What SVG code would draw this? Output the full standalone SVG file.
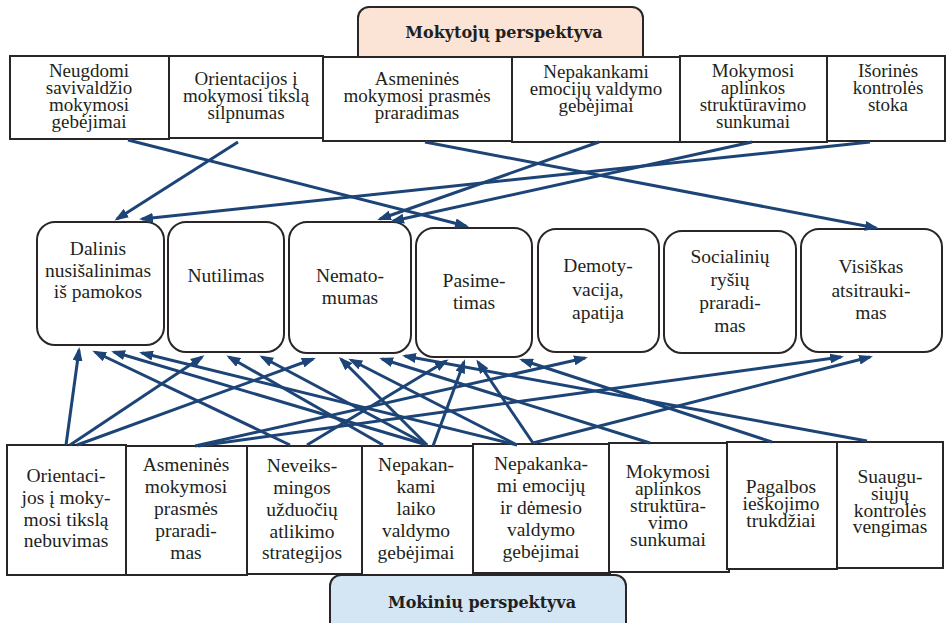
<svg xmlns="http://www.w3.org/2000/svg" width="946" height="623" viewBox="0 0 946 623">
  <style>
    .box { fill: #ffffff; stroke: #2a2526; stroke-width: 2; }
    .rbox { fill: #ffffff; stroke: #2a2526; stroke-width: 2; }
    .t { font-family: "Liberation Serif", "Times New Roman", serif; font-size: 19.5px; fill: #231f20; text-anchor: middle; }
    .ts { font-size: 19px; }
    .h { font-family: "DejaVu Serif", "Liberation Serif", serif; font-weight: bold; font-size: 16px; fill: #231f20; text-anchor: middle; }
    .c line { stroke: #1d4477; stroke-width: 3; fill: none; marker-end: url(#ah); }
  </style>
  <defs>
    <marker id="ah" viewBox="0 0 14 10" refX="11" refY="5" markerWidth="14" markerHeight="10" markerUnits="userSpaceOnUse" orient="auto">
      <path d="M0,0 L14,5 L0,10 Z" fill="#1d4477"/>
    </marker>
  </defs>
  <rect width="946" height="623" fill="#ffffff"/>

  <!-- header: teachers -->
  <g id="hdr-teachers">
    <rect x="358" y="7" width="285" height="62" rx="11" fill="#fbe3d5" stroke="#2a2526" stroke-width="2"/>
    <text class="h" x="504" y="38">Mokytojų perspektyva</text>
  </g>

  <!-- top row -->
  <g id="top1"><rect class="box" x="10" y="56" width="159" height="83"/>
    <text class="t ts"><tspan x="89" y="77">Neugdomi</tspan><tspan x="89" y="94">savivaldžio</tspan><tspan x="89" y="111">mokymosi</tspan><tspan x="89" y="128">gebėjimai</tspan></text></g>
  <g id="top2"><rect class="box" x="169" y="56" width="154" height="82"/>
    <text class="t ts"><tspan x="246" y="85">Orientacijos į</tspan><tspan x="246" y="102">mokymosi tikslą</tspan><tspan x="246" y="119">silpnumas</tspan></text></g>
  <g id="top3"><rect class="box" x="323" y="57" width="189" height="84"/>
    <text class="t ts"><tspan x="417" y="85">Asmeninės</tspan><tspan x="417" y="102">mokymosi prasmės</tspan><tspan x="417" y="119">praradimas</tspan></text></g>
  <g id="top4"><rect class="box" x="512" y="57" width="168" height="85"/>
    <text class="t ts"><tspan x="596" y="78">Nepakankami</tspan><tspan x="596" y="95">emocijų valdymo</tspan><tspan x="596" y="112">gebėjimai</tspan></text></g>
  <g id="top5"><rect class="box" x="680" y="56" width="147" height="86"/>
    <text class="t ts"><tspan x="753" y="77">Mokymosi</tspan><tspan x="753" y="94">aplinkos</tspan><tspan x="753" y="111">struktūravimo</tspan><tspan x="753" y="128">sunkumai</tspan></text></g>
  <g id="top6"><rect class="box" x="827" y="56" width="118" height="85"/>
    <text class="t ts"><tspan x="888" y="77">Išorinės</tspan><tspan x="888" y="94">kontrolės</tspan><tspan x="888" y="111">stoka</tspan></text></g>

  <!-- middle row: forms of disengagement -->
  <g id="mid1"><rect class="rbox" x="37" y="222" width="127" height="123" rx="18"/>
    <text class="t"><tspan x="98" y="255">Dalinis</tspan><tspan x="98" y="277">nusišalinimas</tspan><tspan x="98" y="298">iš pamokos</tspan></text></g>
  <g id="mid2"><rect class="rbox" x="168" y="222" width="116" height="130" rx="18"/>
    <text class="t"><tspan x="226" y="282">Nutilimas</tspan></text></g>
  <g id="mid3"><rect class="rbox" x="289" y="222" width="122" height="131" rx="18"/>
    <text class="t"><tspan x="350" y="282">Nemato-</tspan><tspan x="350" y="304">mumas</tspan></text></g>
  <g id="mid4"><rect class="rbox" x="416" y="228" width="116" height="129" rx="18"/>
    <text class="t"><tspan x="474" y="287">Pasime-</tspan><tspan x="474" y="309">timas</tspan></text></g>
  <g id="mid5"><rect class="rbox" x="538" y="229" width="121" height="123" rx="18"/>
    <text class="t"><tspan x="598" y="272">Demoty-</tspan><tspan x="598" y="296">vacija,</tspan><tspan x="598" y="319">apatija</tspan></text></g>
  <g id="mid6"><rect class="rbox" x="664" y="231" width="132" height="122" rx="18"/>
    <text class="t"><tspan x="730" y="263">Socialinių</tspan><tspan x="730" y="286">ryšių</tspan><tspan x="730" y="309">praradi-</tspan><tspan x="730" y="332">mas</tspan></text></g>
  <g id="mid7"><rect class="rbox" x="801" y="229" width="141" height="123" rx="18"/>
    <text class="t"><tspan x="871" y="273">Visiškas</tspan><tspan x="871" y="297">atsitrauki-</tspan><tspan x="871" y="319">mas</tspan></text></g>

  <!-- bottom row -->
  <g id="bot1"><rect class="box" x="7" y="445" width="119" height="130"/>
    <text class="t"><tspan x="66" y="482">Orientaci-</tspan><tspan x="66" y="504">jos į moky-</tspan><tspan x="66" y="526">mosi tikslą</tspan><tspan x="66" y="547">nebuvimas</tspan></text></g>
  <g id="bot2"><rect class="box" x="126" y="446" width="121" height="129"/>
    <text class="t"><tspan x="186" y="471">Asmeninės</tspan><tspan x="186" y="493">mokymosi</tspan><tspan x="186" y="515">prasmės</tspan><tspan x="186" y="537">praradi-</tspan><tspan x="186" y="559">mas</tspan></text></g>
  <g id="bot3"><rect class="box" x="247" y="446" width="115" height="128"/>
    <text class="t"><tspan x="302" y="472">Neveiks-</tspan><tspan x="302" y="494">mingos</tspan><tspan x="302" y="516">užduočių</tspan><tspan x="302" y="538">atlikimo</tspan><tspan x="302" y="559">strategijos</tspan></text></g>
  <g id="bot4"><rect class="box" x="362" y="446" width="111" height="129"/>
    <text class="t"><tspan x="416" y="471">Nepakan-</tspan><tspan x="416" y="493">kami</tspan><tspan x="416" y="515">laiko</tspan><tspan x="416" y="537">valdymo</tspan><tspan x="416" y="559">gebėjimai</tspan></text></g>
  <g id="bot5"><rect class="box" x="473" y="444" width="137" height="129"/>
    <text class="t"><tspan x="541" y="470">Nepakanka-</tspan><tspan x="541" y="492">mi emocijų</tspan><tspan x="541" y="514">ir dėmesio</tspan><tspan x="541" y="536">valdymo</tspan><tspan x="541" y="558">gebėjimai</tspan></text></g>
  <g id="bot6"><rect class="box" x="609" y="443" width="120" height="129"/>
    <text class="t"><tspan x="668" y="478">Mokymosi</tspan><tspan x="668" y="495">aplinkos</tspan><tspan x="668" y="512">struktūra-</tspan><tspan x="668" y="529">vimo</tspan><tspan x="668" y="546">sunkumai</tspan></text></g>
  <g id="bot7"><rect class="box" x="727" y="442" width="110" height="127"/>
    <text class="t"><tspan x="781" y="493">Pagalbos</tspan><tspan x="781" y="510">ieškojimo</tspan><tspan x="781" y="527">trukdžiai</tspan></text></g>
  <g id="bot8"><rect class="box" x="837" y="442" width="106" height="126"/>
    <text class="t"><tspan x="890" y="483">Suaugu-</tspan><tspan x="890" y="500">siųjų</tspan><tspan x="890" y="517">kontrolės</tspan><tspan x="890" y="533">vengimas</tspan></text></g>

  <!-- header: students -->
  <g id="hdr-students">
    <rect x="330" y="575" width="296" height="62" rx="11" fill="#d4e6f4" stroke="#2a2526" stroke-width="2"/>
    <text class="h" x="482" y="608">Mokinių perspektyva</text>
  </g>

  <!-- connectors -->
  <g id="connectors" class="c">
    <!-- teachers' perspective to forms -->
    <line x1="128" y1="140" x2="466" y2="226"/>
    <line x1="238" y1="142" x2="117" y2="219"/>
    <line x1="425" y1="142" x2="876" y2="228"/>
    <line x1="599" y1="142" x2="380" y2="219"/>
    <line x1="752" y1="142" x2="393" y2="221"/>
    <line x1="870" y1="142" x2="142" y2="219"/>
    <!-- students' perspective to forms -->
    <line x1="66" y1="445" x2="79" y2="350"/>
    <line x1="70" y1="445" x2="202" y2="357"/>
    <line x1="77" y1="445" x2="313" y2="359"/>
    <line x1="195" y1="446" x2="585" y2="358"/>
    <line x1="198" y1="446" x2="841" y2="357"/>
    <line x1="290" y1="445" x2="95" y2="352"/>
    <line x1="307" y1="445" x2="446" y2="361"/>
    <line x1="433" y1="446" x2="464" y2="362"/>
    <line x1="427" y1="445" x2="114" y2="352"/>
    <line x1="427" y1="445" x2="262" y2="357"/>
    <line x1="427" y1="445" x2="341" y2="359"/>
    <line x1="383" y1="445" x2="229" y2="357"/>
    <line x1="517" y1="445" x2="142" y2="353"/>
    <line x1="517" y1="445" x2="351" y2="360"/>
    <line x1="533" y1="443" x2="478" y2="362"/>
    <line x1="533" y1="443" x2="870" y2="357"/>
    <line x1="650" y1="443" x2="382" y2="359"/>
    <line x1="772" y1="442" x2="522" y2="360"/>
    <line x1="867" y1="441" x2="405" y2="356"/>
  </g>
</svg>
